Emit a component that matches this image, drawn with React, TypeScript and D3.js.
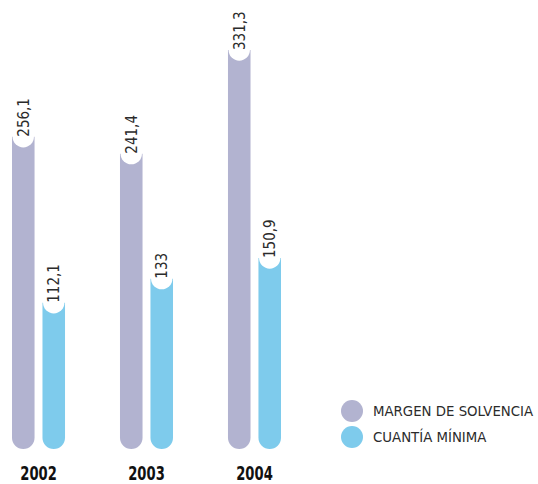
import * as d3 from "d3";
import { useEffect, useRef } from "react";

const years = ["2002", "2003", "2004"];
const seriesNames = ["MARGEN DE SOLVENCIA", "CUANTÍA MÍNIMA"];
const margen = [256.1, 241.4, 331.3];
const cuantia = [112.1, 133, 150.9];
const colors = ["#b2b3d0", "#7ecbec"];

const fmt = (v: number) => String(v).replace(".", ",");

export default function App() {
    const svgRef = useRef<SVGSVGElement | null>(null);
    const svgWidth = 538;
    const svgHeight = 484;

    useEffect(() => {
        const svg = d3.select(svgRef.current);
        svg.selectAll("*").remove();

        const x = d3.scaleBand(years, [12, 281]).paddingInner(0.509).paddingOuter(0);
        const xSub = d3.scaleBand([0, 1].map(String), [0, x.bandwidth()]).paddingInner(0.26);
        const y = d3.scaleLinear([0, 331.3], [432, 50]);
        const bottom = 449;

        const rows = years.flatMap((yr, i) => [
            { year: yr, s: 0, v: margen[i] },
            { year: yr, s: 1, v: cuantia[i] },
        ]);

        const g = svg.append("g");
        rows.forEach(d => {
            const bx = (x(d.year) ?? 0) + (xSub(String(d.s)) ?? 0);
            const w = xSub.bandwidth();
            const r = w / 2;
            const top = y(d.v);
            // bar with rounded bottom
            g.append("path")
                .attr("fill", colors[d.s])
                .attr("d", `M ${bx} ${top} L ${bx + w} ${top} L ${bx + w} ${bottom - r} A ${r} ${r} 0 0 1 ${bx} ${bottom - r} Z`);
            // white notch for the label
            g.append("circle")
                .attr("cx", bx + r)
                .attr("cy", top)
                .attr("r", r - 0.6)
                .attr("fill", "#fff");
            g.append("text")
                .attr("transform", `translate(${bx + r}, ${top}) rotate(-90)`)
                .attr("x", 0)
                .attr("dy", "0.36em")
                .attr("font-family", "'DejaVu Sans Condensed', 'DejaVu Sans', sans-serif")
                .attr("font-stretch", "condensed")
                .attr("font-size", 15)
                .attr("fill", "#2b2b2b")
                .text(fmt(d.v));
        });

        // year labels, squeezed to look like a condensed bold face
        svg.append("g")
            .selectAll("text")
            .data(years)
            .join("text")
            .attr("transform", d => `translate(${(x(d) ?? 0) + x.bandwidth() / 2}, 480) scale(0.73, 1)`)
            .attr("text-anchor", "middle")
            .attr("font-family", "'DejaVu Sans Condensed', 'DejaVu Sans', sans-serif")
            .attr("font-stretch", "condensed")
            .attr("font-weight", "bold")
            .attr("font-size", 20)
            .attr("fill", "#111")
            .text(d => d);

        const legend = svg.append("g").attr("transform", "translate(352, 411)");
        seriesNames.forEach((name, i) => {
            legend.append("circle")
                .attr("cx", 0)
                .attr("cy", i * 26)
                .attr("r", 11)
                .attr("fill", colors[i]);
            legend.append("text")
                .attr("x", 21)
                .attr("y", i * 26 + 5)
                .attr("font-family", "'DejaVu Sans Condensed', 'DejaVu Sans', sans-serif")
                .attr("font-stretch", "condensed")
                .attr("font-size", 14.8)
                .attr("fill", "#2b2b2b")
                .text(name);
        });
    }, []);

    return (
        <svg
            ref={svgRef}
            width={svgWidth}
            height={svgHeight}
            viewBox={`0 0 ${svgWidth} ${svgHeight}`}
            style={{ position: "absolute", left: 0, top: 0, background: "#fff" }}
        />
    );
}
